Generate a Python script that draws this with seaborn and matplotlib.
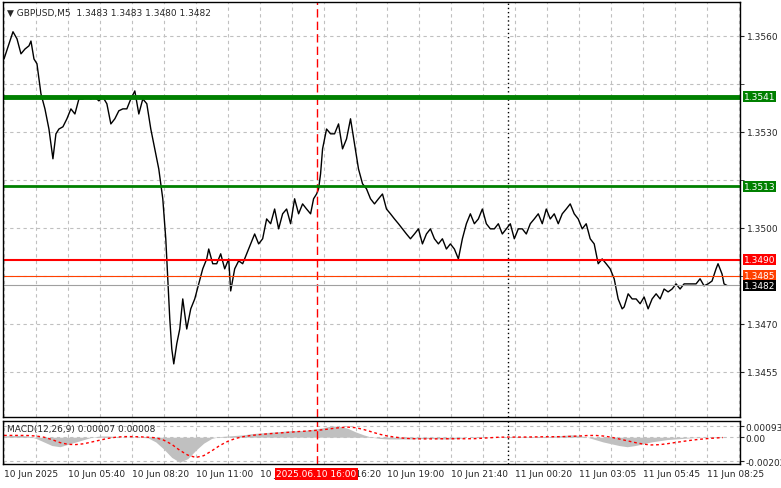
import matplotlib
matplotlib.use("Agg")
import matplotlib.pyplot as plt
import seaborn as sns
import numpy as np
import pandas as pd

sns.set_style("white")
plt.rcParams['font.family'] = ['DejaVu Sans']

price_bars = [0,2.5,4.5,6.5,8.5,10.5,12.5,13.5,15,16.5,18.5,20.5,22.5,24.5,26,27.5,29.5,31.5,33.5,35.5,
 37.5,39.5,41.5,43.5,45.5,47.5,49.5,51.5,53.5,55.5,57.5,59.5,61.5,63.5,65.5,67.5,69.5,71.5,73.5,75.5,
 77.5,79.5,81,82,83,84,85,86.5,88,89.5,91.5,93.5,95.5,97.5,99.5,101.5,102.5,104.5,106.5,108.5,
 110.5,112.5,113.5,115.5,117.5,119.5,121.5,123.5,125.5,127.5,129.5,131.5,133.5,135.5,137.5,139.5,141.5,143.5,145.5,147.5,
 149.5,151.5,153.5,155,156.5,157.5,158.5,159.5,161.5,163.5,165.5,167.5,169.5,171.5,173.5,175.5,177.5,179.5,181.5,183.5,
 185.5,187.5,189.5,191.5,193.5,195.5,197.5,199.5,201.5,203.5,205.5,207.5,209.5,211.5,213.5,215.5,217.5,219.5,221.5,223.5,
 225.5,227.5,229.5,231.5,233.5,235.5,237.5,239.5,241.5,243.5,245.5,247.5,249.5,251.5,253.5,255.5,257.5,259.5,261.5,263.5,
 265.5,267.5,269.5,271.5,273.5,275.5,277.5,279.5,281.5,283.5,285.5,287.5,289.5,291.5,293.5,295.5,297.5,299.5,301.5,303.5,
 305.5,307.5,309.5,310.5,312.5,314.5,316.5,318.5,320.5,322.5,324.5,326.5,328.5,330.5,332.5,334.5,336.5,338.5,340.5,342.5,
 344.5,346.5,348.5,350.5,352.5,354.5,356.5,357.5,359.5,360.5,362]
closes = [13552.8,13557.5,13561.3,13559.1,13554.4,13555.9,13556.9,13558.4,13552.8,13551.3,
 13541.9,13537.2,13530.9,13521.6,13529.4,13530.9,13531.6,13534.1,13537.2,13535.6,
 13540.3,13540.3,13540.9,13540.3,13540.9,13539.7,13540.9,13538.8,13532.5,13534.1,
 13536.6,13537.2,13537.2,13540.3,13542.8,13535.6,13540.3,13538.8,13530.9,13524.7,
 13518.4,13509.1,13496.6,13484.1,13471.6,13462.2,13457.5,13463.8,13468.4,13477.8,
 13468.4,13474.7,13477.8,13482.5,13487.2,13490.3,13493.4,13488.8,13488.8,13491.9,
 13487.2,13490.3,13480.3,13487.2,13489.7,13488.8,13491.9,13495.0,13498.1,13495.0,
 13496.6,13502.8,13501.3,13505.9,13499.7,13504.4,13505.9,13501.3,13509.1,13504.4,
 13507.5,13505.9,13504.4,13509.1,13510.6,13512.2,13516.9,13524.7,13530.9,13529.4,
 13529.4,13532.5,13524.7,13527.8,13534.1,13526.3,13518.4,13513.8,13512.2,13509.1,
 13507.5,13509.1,13510.6,13505.9,13504.4,13502.8,13501.3,13499.7,13498.1,13496.6,
 13498.1,13499.7,13495.0,13498.1,13499.7,13496.6,13495.0,13496.6,13493.4,13495.0,
 13493.4,13490.3,13496.6,13501.3,13504.4,13501.3,13502.8,13505.9,13501.3,13499.7,
 13499.7,13501.3,13498.1,13499.7,13501.3,13496.6,13499.7,13499.7,13498.1,13501.3,
 13502.8,13504.4,13501.3,13505.9,13502.8,13504.4,13501.3,13504.4,13505.9,13507.5,
 13504.4,13502.8,13499.7,13501.3,13496.6,13495.0,13488.8,13490.3,13488.8,13487.2,
 13484.1,13477.8,13474.7,13475.3,13479.4,13477.8,13477.8,13476.3,13478.4,13474.7,
 13477.8,13479.4,13477.8,13480.9,13480.0,13480.9,13482.5,13480.9,13482.5,13482.5,
 13482.5,13482.5,13484.1,13481.9,13482.5,13483.4,13487.2,13488.8,13485.6,13482.5,13482.0]
n = min(len(price_bars), len(closes))
price_bars = price_bars[:n]
closes = [c / 10000 for c in closes[:n]]

macd = [10,15,15,10,-10,-40,-70,-80,-60,-40,
 -20,0,10,10,5,0,-3,0,-5,-40,
 -100,-170,-210,-180,-110,-50,-10,5,10,15,
 20,30,35,40,45,50,55,55,60,70,
 80,95,90,75,45,20,0,-10,-15,-15,
 -15,-15,-12,-10,-12,-15,-15,-10,0,5,
 5,0,0,0,3,5,5,5,5,10,
 15,20,15,0,-20,-40,-55,-70,-80,-70,
 -55,-40,-30,-20,-15,-10,-5,-3,0,5,5]
signal = [15,15,15,14,10,0,-20,-45,-60,-62,
 -55,-40,-25,-10,0,5,5,3,0,-5,
 -25,-60,-110,-150,-170,-155,-115,-70,-35,-10,
 5,15,22,28,33,38,43,48,52,57,
 63,72,80,85,80,65,45,25,10,0,
 -8,-12,-14,-14,-14,-13,-13,-13,-13,-12,
 -8,-4,0,1,1,1,2,3,4,4,
 5,7,10,14,15,10,0,-15,-30,-45,
 -58,-65,-63,-55,-45,-35,-26,-18,-12,-7,-3]
macd = [v / 100000 for v in macd]
signal = [v / 100000 for v in signal]
macd_bars = list(range(0, 4 * len(macd), 4))

tick_labels = ["10 Jun 2025", "10 Jun 05:40", "10 Jun 08:20", "10 Jun 11:00", "10 Jun 13:40",
               "10 Jun 16:20", "10 Jun 19:00", "10 Jun 21:40", "11 Jun 00:20", "11 Jun 03:05",
               "11 Jun 05:45", "11 Jun 08:25"]
price_ticks = [1.3455, 1.3470, 1.3500, 1.3530, 1.3560]
levels = {"1.3541": (1.3541, "green", 3.5), "1.3513": (1.3513, "green", 2.0), "1.3490": (1.3490, "red", 1.5)}

fig = plt.figure(figsize=(7.81, 4.89), dpi=100)
ax = fig.add_axes([3/781, 1-418/489, 737/781, 415/489])
ax2 = fig.add_axes([3/781, 1-465/489, 737/781, 43/489])
xmin, xmax = -0.5, 368.5
fs = 6.5

df = pd.DataFrame({"bar": price_bars, "close": closes})
sns.lineplot(data=df, x="bar", y="close", ax=ax, color="black", lw=1)
ax.set_xlim(xmin, xmax)
ax.set_ylim(1.34409, 1.35706)
for a in (ax, ax2):
    a.set_xticks(np.arange(0, 369, 16))
    a.grid(True, axis="both", color="#c0c0c0", ls=(0, (3, 3)), lw=0.8)
    for s in a.spines.values():
        s.set_color("black"); s.set_linewidth(1)
    a.set_xlabel(""); a.set_ylabel("")
    a.axvline(156.5, color="red", ls=(0, (6, 3)), lw=1)
    a.axvline(252.5, color="black", ls=(0, (1, 2)), lw=1)
ax.set_xticklabels([])
ax.set_yticks(price_ticks)
ax.set_yticks([1.3485, 1.3515, 1.3545], minor=True)
ax.grid(True, which="minor", axis="y", color="#c0c0c0", ls=(0, (3, 3)), lw=0.8)
ax.yaxis.tick_right()
ax.set_yticklabels([f"{t:.4f}" for t in price_ticks], fontsize=fs)
ax.tick_params(axis="y", which="both", length=3, pad=2)
ax.tick_params(axis="x", length=0)

for lab, (val, col, lw) in levels.items():
    ax.axhline(val, color=col, lw=lw)
ax.axhline(1.3485, color="#ff4000", lw=0.8)
ax.axhline(1.3482, color="#a0a0a0", lw=0.8)
boxes = [(1.3541, "green", "white"), (1.3513, "green", "white"), (1.3490, "red", "white"),
         (1.3485, "#ff4000", "white"), (1.3482, "black", "white")]
for val, bg, fg in boxes:
    ax.text(1.005, val, f"{val:.4f}", transform=ax.get_yaxis_transform(), fontsize=fs,
            color=fg, va="center", ha="left",
            bbox=dict(boxstyle="square,pad=0.1", fc=bg, ec="none"), clip_on=False)
ax.text(0.006, 0.985, "▼ GBPUSD,M5  1.3483 1.3483 1.3480 1.3482", transform=ax.transAxes,
        fontsize=fs, va="top", ha="left")

ax2.fill_between(macd_bars, 0, macd, color="#c0c0c0", lw=0)
sns.lineplot(x=macd_bars, y=signal, ax=ax2, color="red", lw=1, ls=(0, (2, 2)))
ax2.set_xlim(xmin, xmax)
ax2.set_ylim(-0.00225, 0.00136)
ax2.set_yticks([-0.00202, 0.0, 0.00093])
ax2.yaxis.tick_right()
ax2.set_yticklabels(["-0.00202", "0.00", "0.00093"], fontsize=fs)
ax2.tick_params(axis="y", length=3, pad=1)
ax2.set_xticklabels([])
ax2.tick_params(axis="x", length=3)
ax2.text(0.006, 0.93, "MACD(12,26,9) 0.00007 0.00008", transform=ax2.transAxes,
         fontsize=fs, va="top", ha="left")
for i, lab in enumerate(tick_labels):
    ax2.text(i * 32, -0.12, lab, transform=ax2.get_xaxis_transform(), fontsize=fs,
             ha="left", va="top")
ax2.text(156.5, -0.12, "2025.06.10 16:00", transform=ax2.get_xaxis_transform(), fontsize=fs,
         ha="center", va="top", color="white", zorder=10,
         bbox=dict(boxstyle="square,pad=0.15", fc="red", ec="none"))

fig.savefig("out.png", dpi=100)
